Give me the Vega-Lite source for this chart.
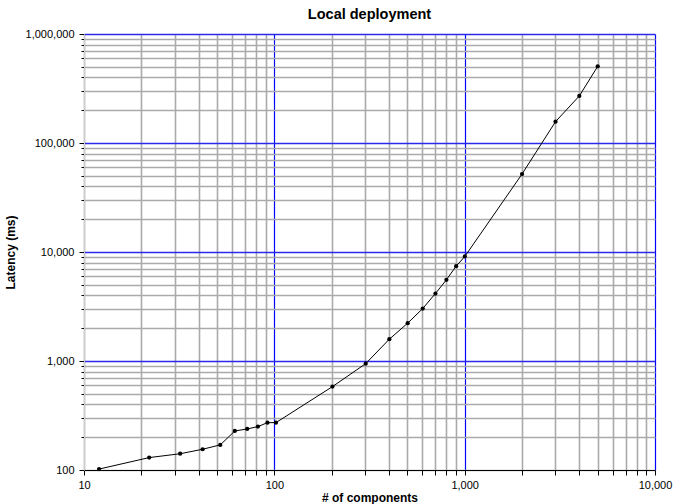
{
  "$schema": "https://vega.github.io/schema/vega-lite/v6.json",
  "width": 571,
  "height": 436,
  "autosize": {"type": "none"},
  "padding": {"left": 84, "top": 34, "right": 20, "bottom": 34},
  "background": "white",
  "title": {"text": "Local deployment", "font": "Liberation Sans", "fontSize": 14.5, "fontWeight": "bold", "anchor": "middle", "offset": 6, "color": "black"},
  "config": {
    "view": {"stroke": null},
    "axis": {"labelFont": "Liberation Sans", "labelFontSize": 11, "labelColor": "black", "titleFont": "Liberation Sans", "titleFontSize": 12, "titleFontWeight": "bold", "titleColor": "black", "tickColor": "black", "gridOpacity": 1}
  },
  "data": {"values": [
    {"n": 12, "latency": 102},
    {"n": 22, "latency": 130},
    {"n": 32, "latency": 141},
    {"n": 42, "latency": 155},
    {"n": 52, "latency": 170},
    {"n": 62, "latency": 228},
    {"n": 72, "latency": 238},
    {"n": 82, "latency": 250},
    {"n": 92, "latency": 272},
    {"n": 102, "latency": 272},
    {"n": 202, "latency": 582},
    {"n": 302, "latency": 946},
    {"n": 402, "latency": 1585},
    {"n": 502, "latency": 2223},
    {"n": 602, "latency": 3027},
    {"n": 702, "latency": 4157},
    {"n": 802, "latency": 5560},
    {"n": 902, "latency": 7420},
    {"n": 1002, "latency": 9100},
    {"n": 2002, "latency": 51900},
    {"n": 3002, "latency": 157000},
    {"n": 4002, "latency": 270000},
    {"n": 5002, "latency": 505000}
  ]},
  "encoding": {
    "x": {
      "field": "n", "type": "quantitative",
      "scale": {"type": "log", "domain": [10, 10000]},
      "axis": {
        "title": "# of components",
        "values": [10,20,30,40,50,60,70,80,90,100,200,300,400,500,600,700,800,900,1000,2000,3000,4000,5000,6000,7000,8000,9000,10000],
        "format": ",",
        "labelExpr": "indexof([10,100,1000,10000], datum.value) >= 0 ? datum.label : ''",
        "grid": true,
        "gridColor": {"condition": {"test": "indexof([100,1000,10000], datum.value) >= 0", "value": "#0000ff"}, "value": "#aaaaaa"},
        "gridWidth": {"condition": {"test": "indexof([100,1000,10000], datum.value) >= 0", "value": 1.2}, "value": 1.6},
        "tickSize": 5,
        "domainColor": "black",
        "labelPadding": 4,
        "labelFlush": false,
        "titlePadding": 2
      }
    },
    "y": {
      "field": "latency", "type": "quantitative",
      "scale": {"type": "log", "domain": [100, 1000000]},
      "axis": {
        "title": "Latency (ms)",
        "values": [100,200,300,400,500,600,700,800,900,1000,2000,3000,4000,5000,6000,7000,8000,9000,10000,20000,30000,40000,50000,60000,70000,80000,90000,100000,200000,300000,400000,500000,600000,700000,800000,900000,1000000],
        "format": ",",
        "labelExpr": "indexof([100,1000,10000,100000,1000000], datum.value) >= 0 ? datum.label : ''",
        "grid": true,
        "gridColor": {"condition": {"test": "indexof([1000,10000,100000,1000000], datum.value) >= 0", "value": "#2a2aee"}, "value": "#aaaaaa"},
        "gridWidth": {"condition": {"test": "indexof([1000,10000,100000,1000000], datum.value) >= 0", "value": 1.6}, "value": 1.6},
        "tickSize": {"condition": {"test": "indexof([100,1000,10000,100000,1000000], datum.value) >= 0", "value": 5}, "value": 3},
        "domainColor": "#cccccc",
        "labelPadding": 5,
        "labelFlush": false,
        "titlePadding": 8
      }
    }
  },
  "layer": [
    {"mark": {"type": "line", "color": "black", "strokeWidth": 1}},
    {"mark": {"type": "point", "filled": true, "color": "black", "size": 18, "opacity": 1}}
  ]
}
